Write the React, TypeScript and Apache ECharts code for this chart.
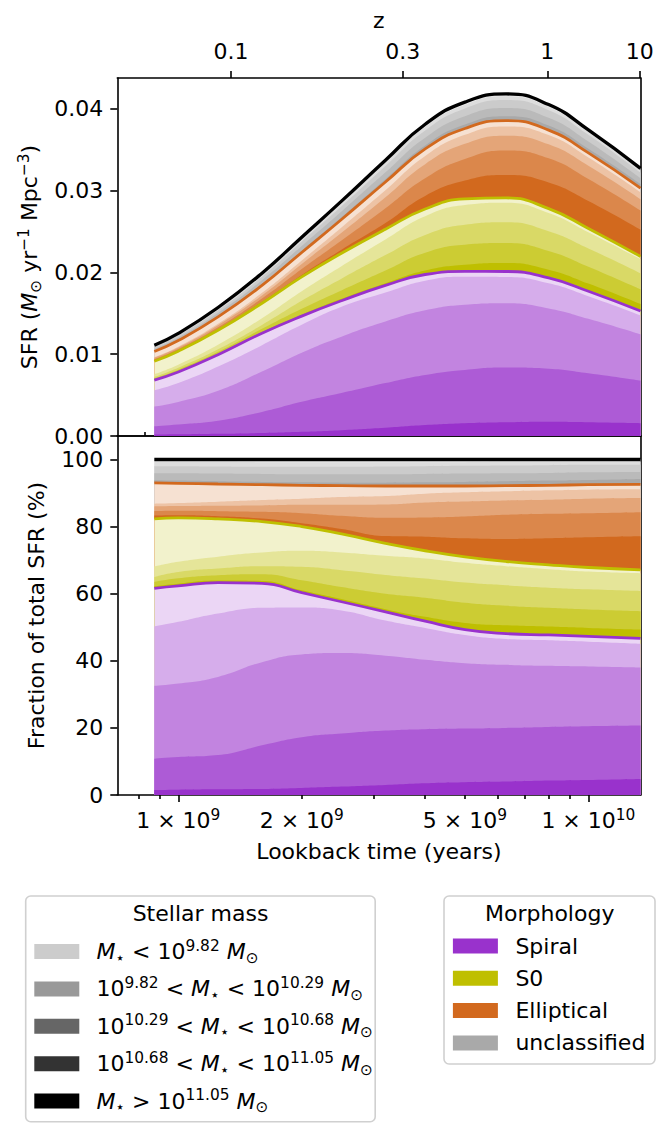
import React, { useEffect, useRef } from "react";
import * as echarts from "echarts";

// ---------------- data ----------------
// lookback time samples (years)
const lookbackTime = [8.74e8, 1.0e9, 1.25e9, 1.6e9, 2.0e9, 2.5e9, 3.2e9, 4.0e9, 5.0e9, 6.3e9, 8.0e9, 1.0e10, 1.34e10];
// total SFR (black curve, M_sun / yr / Mpc^3)
const totalSFR = [0.0111, 0.01255, 0.0157, 0.0199, 0.0243, 0.0287, 0.0337, 0.0381, 0.0408, 0.0418, 0.0405, 0.0374, 0.0327];

// cumulative fraction (%) of total SFR: upper boundary of each mass layer,
// layer 1 = most massive (bottom), layer 5 = least massive (top)
const spiralB1 = [1.5, 1.6, 1.7, 1.8, 2.1, 2.5, 3.0, 3.5, 3.8, 4.0, 4.3, 4.5, 4.8];
const spiralB2 = [10.8, 11.3, 11.9, 14.8, 17.2, 18.3, 19.2, 19.6, 19.8, 20.0, 20.3, 20.5, 20.7];
const spiralB3 = [32.5, 33.2, 35.2, 39.6, 41.9, 42.3, 41.5, 40.3, 39.3, 38.8, 38.5, 38.3, 38.0];
const spiralB4 = [50.2, 51.6, 54.1, 55.8, 55.9, 55.0, 52.0, 49.8, 47.7, 46.5, 46.1, 45.7, 45.1];
const spiralB5 = [61.6, 62.3, 63.3, 63.1, 60.3, 57.6, 54.6, 51.8, 49.3, 48.1, 47.7, 47.3, 46.7];

const s0B1 = [62.2, 63.0, 63.9, 63.8, 61.0, 58.4, 55.4, 53.1, 51.3, 50.6, 50.2, 49.8, 49.3];
const s0B2 = [63.5, 64.6, 65.5, 65.8, 64.0, 62.0, 60.0, 58.8, 57.3, 56.4, 55.8, 55.3, 54.8];
const s0B3 = [65.0, 66.5, 67.5, 68.2, 68.0, 67.0, 65.6, 64.5, 63.3, 62.5, 61.8, 61.3, 60.8];
const s0B4 = [68.1, 69.5, 71.0, 72.3, 72.8, 72.3, 71.3, 70.5, 69.2, 68.2, 67.3, 66.6, 66.1];
const s0B5 = [82.3, 82.6, 82.3, 81.5, 80.0, 77.8, 75.0, 72.8, 71.0, 69.6, 68.6, 67.8, 67.1];

const ellB1 = [83.3, 83.4, 83.1, 82.4, 81.0, 79.3, 77.2, 77.0, 76.5, 76.3, 76.5, 76.8, 77.1];
const ellB2 = [84.6, 84.7, 84.6, 84.4, 84.0, 83.2, 82.6, 82.7, 83.0, 83.5, 83.8, 84.0, 84.3];
const ellB3 = [86.0, 86.1, 86.2, 86.3, 86.5, 86.5, 86.6, 87.2, 87.5, 87.8, 88.0, 88.3, 88.5];
const ellB4 = [86.8, 87.0, 87.4, 87.9, 88.3, 88.8, 89.1, 89.8, 90.2, 90.5, 90.8, 91.0, 91.1];
const ellB5 = [93.0, 92.9, 92.7, 92.5, 92.3, 92.2, 92.1, 92.1, 92.1, 92.2, 92.3, 92.5, 92.6];

const uncB1 = [93.8, 93.7, 93.5, 93.3, 93.2, 93.1, 93.1, 93.2, 93.3, 93.5, 93.7, 93.9, 94.2];
const uncB2 = [95.9, 95.9, 95.8, 95.7, 95.6, 95.6, 95.6, 95.7, 95.8, 95.9, 96.0, 96.2, 96.3];
const uncB3 = [98.0, 98.0, 97.9, 97.8, 97.8, 97.8, 97.9, 98.0, 98.1, 98.2, 98.3, 98.4, 98.4];
const uncB4 = [99.3, 99.3, 99.3, 99.2, 99.2, 99.2, 99.2, 99.2, 99.2, 99.3, 99.3, 99.3, 99.3];
const uncB5 = [100, 100, 100, 100, 100, 100, 100, 100, 100, 100, 100, 100, 100];

// ---------------- axes / ticks ----------------
const timeMin = 7.1e8;
const timeMax = 1.34e10;
const sfrMax = 0.04375;
const fracMax = 107;
const sfrTicks = [0, 0.01, 0.02, 0.03, 0.04];
const fracTicks = [0, 20, 40, 60, 80, 100];
const timeMajorTicks = [1e9, 1e10];
const timeLabelTicks = [1e9, 2e9, 5e9, 1e10];
const timeMinorTicks = [8e8, 9e8, 2e9, 3e9, 4e9, 5e9, 6e9, 7e9, 8e9, 9e9];
const zMajor = [0.1, 0.3, 1, 10];
const zMinor = [0.05, 0.06, 0.07, 0.08, 0.09, 0.2, 0.4, 0.5, 0.6, 0.7, 0.8, 0.9, 2, 3, 4, 5, 6, 7, 8, 9];

const morphNames = ["Spiral", "S0", "Elliptical", "unclassified"];
const morphColors = ["#9932cc", "#bfbf00", "#d2691e", "#a9a9a9"];
const massAlphas = [1, 0.8, 0.6, 0.4, 0.2];
const massLabels = [
  "{i|M}{sb|⋆} < 10{sp|9.82} {i|M}{sb|⊙}",
  "10{sp|9.82} < {i|M}{sb|⋆} < 10{sp|10.29} {i|M}{sb|⊙}",
  "10{sp|10.29} < {i|M}{sb|⋆} < 10{sp|10.68} {i|M}{sb|⊙}",
  "10{sp|10.68} < {i|M}{sb|⋆} < 10{sp|11.05} {i|M}{sb|⊙}",
  "{i|M}{sb|⋆} > 10{sp|11.05} {i|M}{sb|⊙}",
];
const massLegendAlphas = [0.2, 0.4, 0.6, 0.8, 1];

const FONT = "DejaVu Sans";
const FS = 22;
const SS = 15.4;

function blend(hex: string, a: number) {
  const n = parseInt(hex.slice(1), 16);
  const r = (n >> 16) & 255, g = (n >> 8) & 255, b = n & 255;
  const f = (c: number) => Math.round(255 - (255 - c) * a);
  return `rgb(${f(r)},${f(g)},${f(b)})`;
}

// flat LCDM (Planck 2015) lookback time in years, used for the redshift axis
function lookbackOfZ(z: number) {
  const H0 = 67.74, Om = 0.3075, OL = 1 - Om;
  const tH = (977.79222 / H0) * 1e9;
  const n = 2000;
  const h = z / n;
  let s = 0;
  for (let k = 0; k <= n; k++) {
    const zz = k * h;
    const f = 1 / ((1 + zz) * Math.sqrt(Om * Math.pow(1 + zz, 3) + OL));
    const w = k === 0 || k === n ? 1 : k % 2 ? 4 : 2;
    s += w * f;
  }
  return (tH * s * h) / 3;
}

const richStyles = {
  i: { fontStyle: "italic", fontSize: FS, fontFamily: FONT, color: "#000", lineHeight: 27 },
  sp: { fontSize: SS, fontFamily: FONT, color: "#000", verticalAlign: "top", lineHeight: 15 },
  sb: { fontSize: SS, fontFamily: FONT, color: "#000", verticalAlign: "bottom", lineHeight: 15 },
};

function buildOption() {
  const zMajorT = zMajor.map(lookbackOfZ);
  const zMinorT = zMinor.map(lookbackOfZ);

  const groups = [
    [spiralB1, spiralB2, spiralB3, spiralB4, spiralB5],
    [s0B1, s0B2, s0B3, s0B4, s0B5],
    [ellB1, ellB2, ellB3, ellB4, ellB5],
    [uncB1, uncB2, uncB3, uncB4, uncB5],
  ];

  const layers: { bound: number[]; color: string }[] = [];
  groups.forEach((g, gi) => {
    g.forEach((b, k) => layers.push({ bound: b, color: blend(morphColors[gi], massAlphas[k]) }));
  });

  const SMOOTH = 0.5;
  const series: any[] = [];
  // draw from the highest boundary down so that each area covers the ones above it
  for (let li = layers.length - 1; li >= 0; li--) {
    const L = layers[li];
    series.push({
      type: "line", xAxisIndex: 0, yAxisIndex: 0, silent: true, z: 2,
      smooth: SMOOTH, symbol: "none", lineStyle: { width: 0 },
      areaStyle: { color: L.color, opacity: 1 },
      data: lookbackTime.map((t, i) => [t, (totalSFR[i] * L.bound[i]) / 100]),
    });
    series.push({
      type: "line", xAxisIndex: 2, yAxisIndex: 2, silent: true, z: 2,
      smooth: SMOOTH, symbol: "none", lineStyle: { width: 0 },
      areaStyle: { color: L.color, opacity: 1 },
      data: lookbackTime.map((t, i) => [t, L.bound[i]]),
    });
  }
  const tops = [spiralB5, s0B5, ellB5, uncB5];
  const topColors = [morphColors[0], morphColors[1], morphColors[2], "#000000"];
  tops.forEach((b, gi) => {
    const w = gi === 3 ? 3.3 : 2.8;
    series.push({
      type: "line", xAxisIndex: 0, yAxisIndex: 0, silent: true, z: 4,
      smooth: SMOOTH, symbol: "none", lineStyle: { width: w, color: topColors[gi] },
      data: lookbackTime.map((t, i) => [t, (totalSFR[i] * b[i]) / 100]),
    });
    series.push({
      type: "line", xAxisIndex: 2, yAxisIndex: 2, silent: true, z: 4,
      smooth: SMOOTH, symbol: "none", lineStyle: { width: w, color: topColors[gi] },
      data: lookbackTime.map((t, i) => [t, b[i]]),
    });
  });

  const axLine = { show: true, onZero: false, lineStyle: { color: "#000", width: 1.6 } };
  const tickStyle = { color: "#000", width: 1.6 };
  const lbl = { color: "#000", fontSize: FS, fontFamily: FONT };
  const noTick = { show: false };
  const noLbl = { show: false };
  const noSplit = { show: false };

  const gridBox = { left: 117.3, width: 523.2, outerBoundsMode: "none", containLabel: false };
  const grids = [
    { ...gridBox, top: 78, height: 358 },
    { ...gridBox, top: 436, height: 359 },
    { ...gridBox, top: 78, height: 358 },
    { ...gridBox, top: 436, height: 359 },
  ];

  const fmtTime = (v: number) => {
    const e = Math.floor(Math.log10(v) + 1e-6);
    const m = Math.round(v / Math.pow(10, e));
    return `${m} × 10{sp|${e}}`;
  };
  const fmtZ = (v: number) => {
    let best = 0;
    zMajorT.forEach((t, i) => { if (Math.abs(t - v) < Math.abs(zMajorT[best] - v)) best = i; });
    return String(zMajor[best]);
  };

  const xBase = { type: "log", logBase: 10, min: timeMin, max: timeMax, splitLine: noSplit };
  const xAxis = [
    { ...xBase, gridIndex: 0, position: "bottom", axisLine: axLine, axisTick: noTick, axisLabel: noLbl },
    {
      ...xBase, gridIndex: 0, position: "top", axisLine: axLine,
      axisTick: { show: true, length: 7, customValues: zMajorT, lineStyle: tickStyle },
      axisLabel: { show: true, customValues: zMajorT, formatter: fmtZ, margin: 16, ...lbl },
      name: "z", nameLocation: "middle", nameGap: 47,
      nameTextStyle: { ...lbl },
    },
    {
      ...xBase, gridIndex: 1, position: "bottom", axisLine: axLine,
      axisTick: { show: true, length: 7, customValues: timeMajorTicks, lineStyle: tickStyle },
      axisLabel: {
        show: true, customValues: timeLabelTicks, formatter: fmtTime, margin: 12, ...lbl,
        lineHeight: 27, rich: richStyles,
      },
      name: "Lookback time (years)", nameLocation: "middle", nameGap: 45,
      nameTextStyle: { ...lbl },
    },
    { ...xBase, gridIndex: 1, position: "top", axisLine: axLine, axisTick: noTick, axisLabel: noLbl },
    {
      ...xBase, gridIndex: 2, position: "top", axisLine: { show: false },
      axisTick: { show: true, length: 4, customValues: zMinorT, lineStyle: tickStyle }, axisLabel: noLbl,
    },
    {
      ...xBase, gridIndex: 3, position: "bottom", axisLine: { show: false },
      axisTick: { show: true, length: 4, customValues: timeMinorTicks, lineStyle: tickStyle }, axisLabel: noLbl,
    },
  ];

  const yAxis = [
    {
      type: "value", gridIndex: 0, position: "left", min: 0, max: sfrMax, axisLine: axLine, splitLine: noSplit,
      axisTick: { show: true, length: 7, customValues: sfrTicks, lineStyle: tickStyle },
      axisLabel: { show: true, customValues: sfrTicks, formatter: (v: number) => v.toFixed(2), margin: 14, ...lbl },
      name: "SFR ({i|M}{sb|⊙} yr{sp|−1} Mpc{sp|−3})", nameLocation: "middle", nameGap: 74,
      nameTextStyle: { ...lbl, lineHeight: 27, rich: richStyles },
    },
    { type: "value", gridIndex: 0, position: "right", min: 0, max: sfrMax, axisLine: axLine, axisTick: noTick, axisLabel: noLbl, splitLine: noSplit },
    {
      type: "value", gridIndex: 1, position: "left", min: 0, max: fracMax, axisLine: axLine, splitLine: noSplit,
      axisTick: { show: true, length: 7, customValues: fracTicks, lineStyle: tickStyle },
      axisLabel: { show: true, customValues: fracTicks, formatter: (v: number) => String(v), margin: 14, ...lbl },
      name: "Fraction of total SFR (%)", nameLocation: "middle", nameGap: 63,
      nameTextStyle: { ...lbl, lineHeight: 27 },
    },
    { type: "value", gridIndex: 1, position: "right", min: 0, max: fracMax, axisLine: axLine, axisTick: noTick, axisLabel: noLbl, splitLine: noSplit },
    { type: "value", gridIndex: 2, show: false, min: 0, max: sfrMax },
    { type: "value", gridIndex: 3, show: false, min: 0, max: fracMax },
  ];

  // legends (drawn with graphic elements)
  const graphic: any[] = [];
  const txt = (x: number, y: number, text: string, align: string, rich?: any) => ({
    type: "text", x, y, silent: true,
    style: {
      text, fill: "#000", fontSize: FS, fontFamily: FONT, lineHeight: 27,
      align, textAlign: align, verticalAlign: "middle", textVerticalAlign: "middle",
      ...(rich ? { rich } : {}),
    },
  });
  // Stellar mass box
  graphic.push({
    type: "rect", silent: true, shape: { x: 25.7, y: 896, width: 349.5, height: 225.7, r: 5 },
    style: { fill: "rgba(255,255,255,0.8)", stroke: "#d0d0d0", lineWidth: 1.6 },
  });
  graphic.push(txt(200.5, 913, "Stellar mass", "center"));
  massLabels.forEach((s, k) => {
    const cy = 951.5 + k * 37.4;
    graphic.push({
      type: "rect", silent: true, shape: { x: 34.3, y: cy - 7.5, width: 45, height: 15 },
      style: { fill: blend("#000000", massLegendAlphas[k]) },
    });
    graphic.push(txt(96.4, cy, s, "left", richStyles));
  });
  // Morphology box
  graphic.push({
    type: "rect", silent: true, shape: { x: 444, y: 896, width: 211, height: 168, r: 5 },
    style: { fill: "rgba(255,255,255,0.8)", stroke: "#d0d0d0", lineWidth: 1.6 },
  });
  graphic.push(txt(549.7, 913, "Morphology", "center"));
  morphNames.forEach((s, k) => {
    const cy = 946 + k * 32.3;
    graphic.push({
      type: "rect", silent: true, shape: { x: 452.9, y: cy - 7.5, width: 45, height: 15 },
      style: { fill: morphColors[k] },
    });
    graphic.push(txt(515.4, cy, s, "left"));
  });

  return {
    animation: false,
    backgroundColor: "#ffffff",
    textStyle: { fontFamily: FONT },
    grid: grids,
    xAxis,
    yAxis,
    series,
    graphic,
  };
}

export default function App() {
  const ref = useRef<HTMLDivElement>(null);
  useEffect(() => {
    if (!ref.current) return;
    const chart = echarts.init(ref.current, undefined, { renderer: "svg" });
    chart.setOption(buildOption() as any);
    return () => chart.dispose();
  }, []);
  return (
    <div
      ref={ref}
      style={{ position: "absolute", left: 0, top: 0, width: 664, height: 1138, background: "#fff" }}
    />
  );
}
